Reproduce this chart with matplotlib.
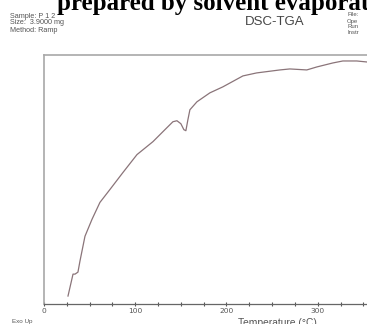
import matplotlib
matplotlib.use("Agg")
import matplotlib.pyplot as plt
from matplotlib.ticker import MultipleLocator

# DSC curve (temperature in degC, signal in arbitrary units)
temperature = [26.3, 31.8, 34.0, 37.2, 39.4, 41.6, 44.9, 52.6, 61.3, 72.3,
               86.5, 101.9, 119.4, 132.5, 141.3, 145.7, 150.0, 153.3, 155.5,
               157.7, 159.9, 167.6, 181.8, 196.0, 218.0, 233.0, 258.5, 269.4,
               288.0, 299.0, 316.5, 327.5, 342.8, 353.8]
signal = [8, 30, 30, 32, 43, 53, 68, 85, 102, 115,
          132, 150, 163, 175, 183, 184, 181, 175, 174,
          185, 195, 203, 212, 218, 229, 232, 235, 236,
          235, 238, 242, 244, 244, 243]

header_left = ["Sample: P 1 2", "Size:  3.9000 mg", "Method: Ramp"]
header_right = ["File:", "Ope", "Run", "Instr"]
x_ticks = [0, 100, 200, 300]

fig = plt.figure(figsize=(3.67, 3.24), dpi=100)
ax = fig.add_axes([44 / 367, 20 / 324, 1 - 44 / 367, 249 / 324])

ax.plot(temperature, signal, color="#8a7479", lw=0.9)
ax.set_xlim(0, 354)
ax.set_ylim(0, 250)

# spines like the instrument printout
ax.spines["right"].set_visible(False)
ax.spines["left"].set_color("#a8a8a8")
ax.spines["top"].set_color("#a8a8a8")
ax.spines["left"].set_linewidth(1.2)
ax.spines["top"].set_linewidth(1.2)
ax.spines["bottom"].set_color("#666666")
ax.spines["bottom"].set_linewidth(0.9)

ax.set_yticks([])
ax.set_xticks(x_ticks)
ax.xaxis.set_minor_locator(MultipleLocator(25))
ax.tick_params(axis="x", which="both", direction="inout", length=2.5,
               width=0.8, color="#555555", labelsize=5.4,
               labelcolor="#555555", pad=1.5)

# header / footer text of the scanned page
fig.text(57 / 367, 1 - 10 / 324, "prepared by solvent evaporation",
         fontsize=18, fontweight="bold", family="Liberation Serif",
         ha="left", va="baseline", color="black")
for i, s in enumerate(header_left):
    fig.text(10 / 367, 1 - (16 + 7 * i) / 324, s, fontsize=5.2,
             family="Liberation Sans", color="#555555", va="center")
fig.text(275 / 367, 1 - 22 / 324, "DSC-TGA", fontsize=9.5,
         family="Liberation Sans", color="#444444", ha="center", va="center")
for i, s in enumerate(header_right):
    fig.text(347 / 367, 1 - (15 + 6 * i) / 324, s, fontsize=4.3,
             family="Liberation Sans", color="#555555", va="center")
fig.text(12 / 367, 1 - 321 / 324, "Exo Up", fontsize=4.5,
         family="Liberation Sans", color="#555555", va="center")
fig.text(277 / 367, 1 - 318.5 / 324, "Temperature (°C)", fontsize=7.4,
         family="Liberation Sans", color="#555555", ha="center", va="top")

fig.savefig("out.png", dpi=100)
